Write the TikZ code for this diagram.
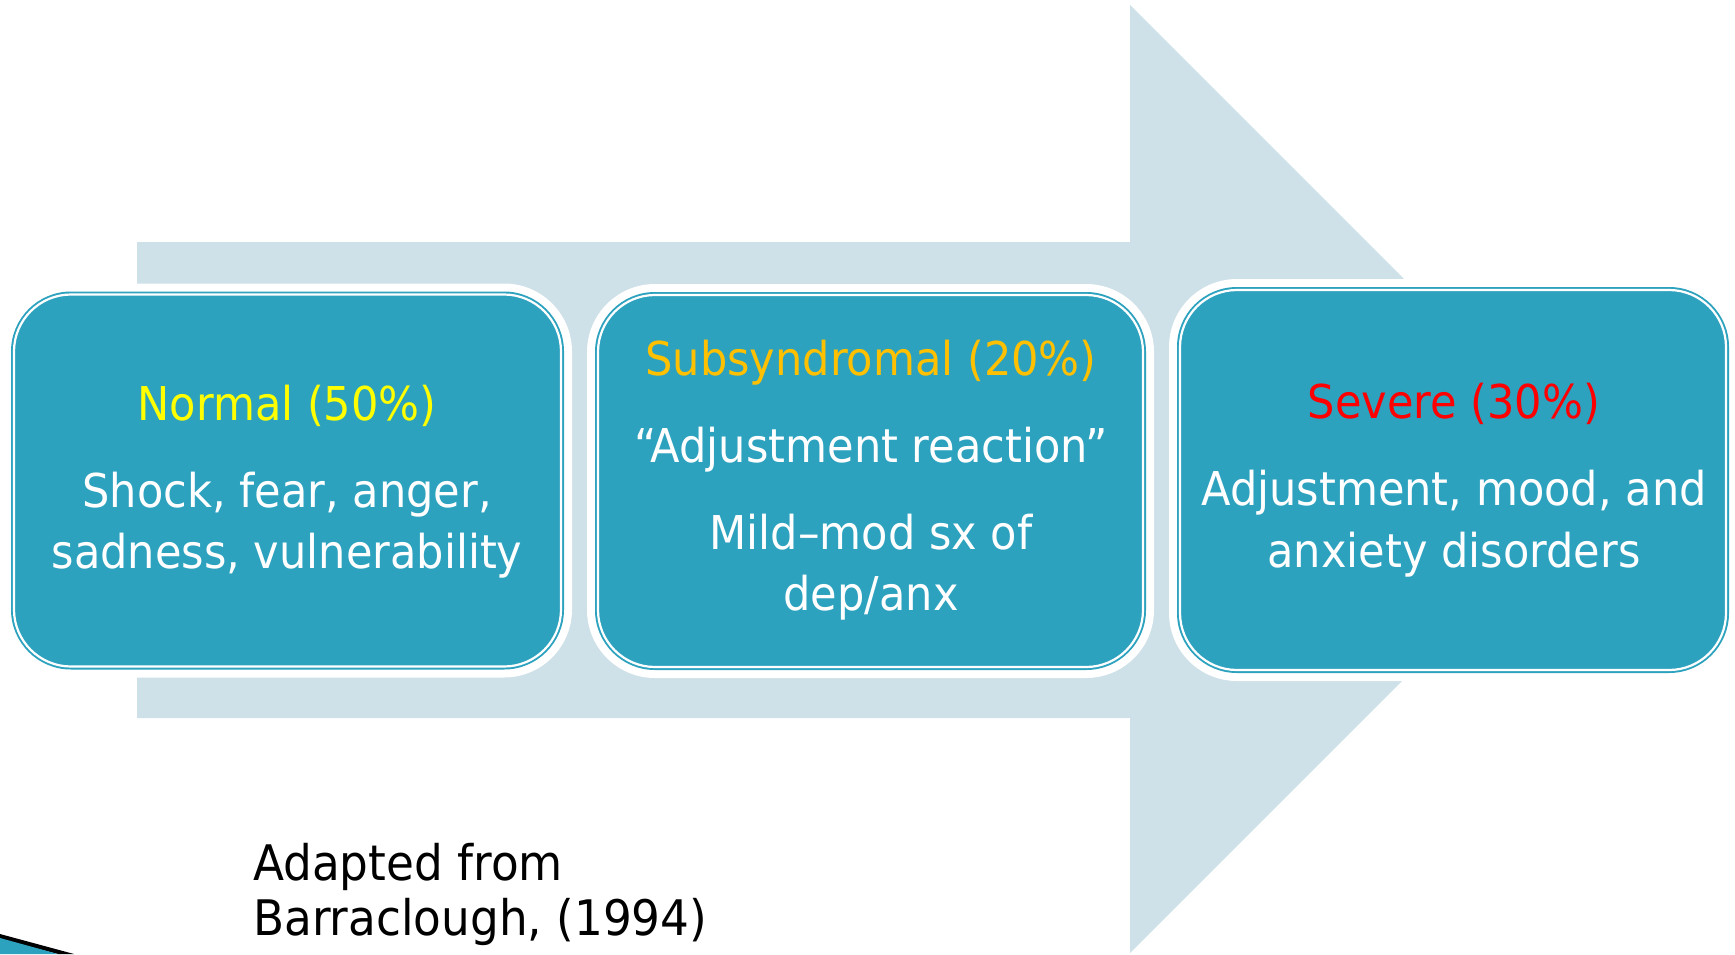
\documentclass[tikz,border=0pt]{standalone}
\usepackage{fontspec}
\setmainfont{DejaVu Sans}[FakeStretch=0.925]
\usetikzlibrary{calc}
\definecolor{boxteal}{HTML}{2DA2BF}
\definecolor{arrowblue}{HTML}{CEE0E8}
\definecolor{lblyellow}{HTML}{FFFF00}
\definecolor{lblorange}{HTML}{FFC000}
\definecolor{lblred}{HTML}{FF0000}
\begin{document}
\begin{tikzpicture}[x=1pt,y=-1pt,
  halo/.style={fill=white, rounded corners=68pt, inner sep=0pt, outer sep=0pt},
  tealbox/.style={fill=boxteal, rounded corners=60pt, inner sep=0pt, outer sep=0pt},
  ringline/.style={draw=white, line width=2.2pt, rounded corners=57pt},
  boxtext/.style={anchor=base, inner sep=0pt, text=white, font=\fontsize{46.6}{56}\selectfont},
  credit/.style={anchor=base west, inner sep=0pt, text=black, font=\fontsize{49}{56}\selectfont}]
\useasboundingbox (0,0) rectangle (1735,954);
% big background arrow
\fill[arrowblue] (137,242) -- (1130,242) -- (1130,5) -- (1604,479) -- (1130,953) -- (1130,718) -- (137,718) -- cycle;
% corner decoration
\fill[black] (0,934) -- (74,954) -- (58,954) -- (0,939) -- cycle;
\fill[boxteal] (0,938) -- (58,954) -- (0,954) -- cycle;
% boxes
\node[halo, minimum width=569pt, minimum height=394pt] (h1) at (287.5,480.5) {};
\node[halo, minimum width=567pt, minimum height=394pt] (h2) at (870.5,481) {};
\node[halo, minimum width=568pt, minimum height=402pt] (h3) at (1453,480) {};
\node[tealbox, minimum width=553pt, minimum height=378pt] (b1) at (287.5,480.5) {};
\node[tealbox, minimum width=551pt, minimum height=378pt] (b2) at (870.5,481) {};
\node[tealbox, minimum width=552pt, minimum height=386pt] (b3) at (1453,480) {};
\foreach \b in {b1,b2,b3}{
  \draw[ringline] ($(\b.south west)+(3,-3)$) rectangle ($(\b.north east)+(-3,3)$);
}
% box 1 text
\node[boxtext, text=lblyellow] (t1a) at (287,420) {Normal (50\%)};
\node[boxtext] (t1b) at (287,507) {Shock, fear, anger,};
\node[boxtext] (t1c) at (287,568) {sadness, vulnerability};
% box 2 text
\node[boxtext, text=lblorange] (t2a) at (871,375) {Subsyndromal (20\%)};
\node[boxtext] (t2b) at (871,462) {“Adjustment reaction”};
\node[boxtext] (t2c) at (871,549) {Mild–mod sx of};
\node[boxtext] (t2d) at (871,610) {dep/anx};
% box 3 text
\node[boxtext, text=lblred] (t3a) at (1454,418) {Severe (30\%)};
\node[boxtext] (t3b) at (1454,505) {Adjustment, mood, and};
\node[boxtext] (t3c) at (1454,567) {anxiety disorders};
% credit
\node[credit] (c1) at (253,880) {Adapted from};
\node[credit] (c2) at (253,935) {Barraclough, (1994)};
\end{tikzpicture}
\end{document}
